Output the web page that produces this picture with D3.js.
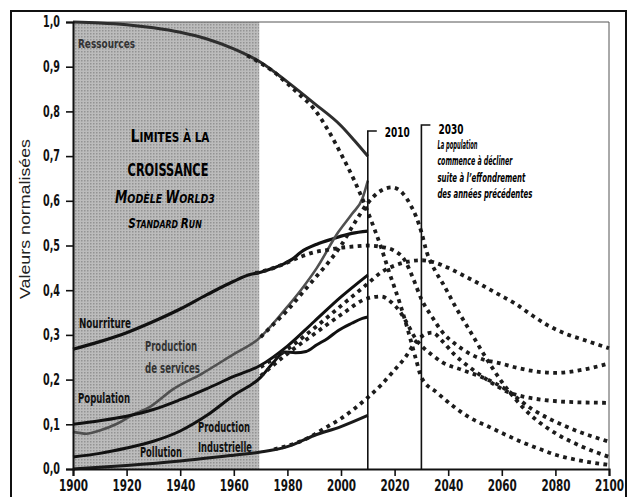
<!DOCTYPE html>
<html>
<head>
<meta charset="utf-8">
<script src="https://cdn.jsdelivr.net/npm/d3@7"></script>
<style>
    body { margin: 0; background: #fff; }
    svg text { font-family: "DejaVu Sans Condensed", "DejaVu Sans", sans-serif; font-weight: bold; }
</style>
</head>
<body>
<script>
(function(){

    // observed series 1900-2010 (solid), [year, value]
    var resourcesObs = [[1900,1.0],[1910,0.998],[1920,0.994],[1930,0.987],[1940,0.977],[1950,0.962],[1960,0.94],[1970,0.91],[1980,0.866],[1990,0.818],[2000,0.768],[2005,0.735],[2010,0.70]];
    var foodObs = [[1900,0.268],[1910,0.285],[1920,0.305],[1930,0.33],[1940,0.358],[1950,0.39],[1960,0.42],[1966,0.435],[1970,0.44],[1975,0.45],[1979,0.46],[1982,0.47],[1985,0.485],[1991,0.503],[1997,0.515],[2004,0.527],[2010,0.532]];
    var servicesObs = [[1900,0.083],[1905,0.079],[1910,0.086],[1916,0.1],[1922,0.12],[1929,0.14],[1937,0.177],[1948,0.213],[1960,0.257],[1969,0.29],[1979,0.356],[1985,0.40],[1991,0.45],[1999,0.53],[2004,0.57],[2008,0.605],[2010,0.645]];
    var populationObs = [[1900,0.10],[1910,0.108],[1920,0.118],[1930,0.133],[1940,0.155],[1950,0.18],[1960,0.207],[1970,0.232],[1980,0.275],[1990,0.33],[2000,0.385],[2010,0.434]];
    var industryObs = [[1900,0.027],[1910,0.035],[1920,0.047],[1930,0.062],[1940,0.085],[1950,0.12],[1960,0.165],[1970,0.205],[1975,0.24],[1979,0.262],[1983,0.26],[1987,0.263],[1991,0.278],[1995,0.292],[1999,0.31],[2004,0.326],[2008,0.337],[2010,0.34]];
    var pollutionObs = [[1900,0.0],[1920,0.008],[1940,0.018],[1960,0.031],[1970,0.038],[1980,0.05],[1990,0.075],[2000,0.095],[2010,0.12]];

    // World3 standard run (dotted)
    var resourcesRun = [[1965,0.925],[1970,0.908],[1975,0.888],[1980,0.862],[1985,0.835],[1990,0.805],[1995,0.76],[2000,0.705],[2005,0.645],[2010,0.575],[2015,0.495],[2018,0.44],[2022,0.37],[2025,0.31],[2028,0.245],[2030,0.205],[2036,0.17],[2042,0.14],[2048,0.115],[2055,0.095],[2062,0.075],[2068,0.059],[2074,0.045],[2080,0.032],[2090,0.018],[2100,0.009]];
    var foodRun = [[1968,0.438],[1975,0.45],[1980,0.462],[1985,0.475],[1990,0.485],[1995,0.49],[2000,0.495],[2005,0.498],[2010,0.50],[2015,0.497],[2020,0.488],[2024,0.465],[2027,0.425],[2030,0.38],[2034,0.34],[2038,0.305],[2043,0.278],[2048,0.258],[2053,0.245],[2059,0.237],[2066,0.226],[2073,0.218],[2080,0.215],[2090,0.222],[2100,0.236]];
    var servicesRun = [[1970,0.295],[1975,0.325],[1980,0.355],[1985,0.39],[1990,0.425],[1995,0.46],[2000,0.50],[2005,0.55],[2010,0.595],[2015,0.623],[2019,0.63],[2023,0.617],[2026,0.59],[2028,0.565],[2030,0.53],[2032,0.485],[2035,0.445],[2038,0.415],[2043,0.36],[2048,0.31],[2055,0.24],[2060,0.195],[2065,0.157],[2070,0.125],[2075,0.10],[2080,0.08],[2090,0.05],[2100,0.027]];
    var populationRun = [[1970,0.228],[1980,0.268],[1990,0.315],[2000,0.365],[2010,0.415],[2015,0.44],[2020,0.455],[2025,0.464],[2030,0.467],[2035,0.462],[2040,0.45],[2046,0.432],[2053,0.41],[2059,0.39],[2065,0.37],[2071,0.345],[2077,0.322],[2084,0.302],[2090,0.29],[2100,0.27]];
    var industryRun = [[1970,0.208],[1980,0.258],[1990,0.302],[2000,0.345],[2010,0.382],[2015,0.386],[2019,0.372],[2022,0.352],[2025,0.322],[2028,0.29],[2031,0.27],[2034,0.255],[2038,0.238],[2045,0.222],[2052,0.207],[2061,0.18],[2071,0.135],[2084,0.095],[2100,0.061]];
    var pollutionRun = [[1975,0.044],[1980,0.052],[1985,0.062],[1990,0.077],[1995,0.095],[2000,0.113],[2005,0.135],[2010,0.16],[2015,0.188],[2019,0.215],[2024,0.25],[2028,0.285],[2031,0.30],[2034,0.305],[2038,0.285],[2042,0.258],[2047,0.232],[2052,0.21],[2057,0.19],[2062,0.173],[2068,0.162],[2075,0.155],[2085,0.15],[2100,0.148]];

    var xTicks = d3.range(1900, 2101, 20);
    var yTicks = d3.range(0, 11).map(function(d){ return d / 10; });
    var markers = [2010, 2030];
    var noteLines = ["La population", "commence à décliner", "suite à l’effondrement", "des années précédentes"];

    var width = 633, height = 497;

    var svg = d3.select("body")
        .append("svg")
        .attr("width", width)
        .attr("height", height);

    var x = d3.scaleLinear().domain([1900, 2100]).range([73, 609]);
    var y = d3.scaleLinear().domain([0, 1]).range([469, 22]);

    // squeeze a text to the width it has in the print
    function fit(sel, w){
        sel.attr("textLength", w).attr("lengthAdjust", "spacingAndGlyphs");
    }

    // halftone for the shaded period
    var pat = svg.append("defs").append("pattern")
        .attr("id", "tone")
        .attr("width", 3).attr("height", 3)
        .attr("patternUnits", "userSpaceOnUse");
    pat.append("rect").attr("width", 3).attr("height", 3).attr("fill", "#bcbcbc");
    pat.append("rect").attr("width", 1.5).attr("height", 1.5).attr("fill", "#939393");

    // outer frame
    svg.append("rect")
        .attr("x", 11).attr("y", 11)
        .attr("width", 615).attr("height", 500)
        .attr("fill", "none")
        .attr("stroke", "#111")
        .attr("stroke-width", 2);

    svg.append("rect")
        .attr("x", x(1900)).attr("y", y(1))
        .attr("width", x(1969.5) - x(1900))
        .attr("height", y(0) - y(1))
        .attr("fill", "url(#tone)");

    // plot frame top and right
    svg.append("path")
        .attr("d", "M" + x(1900) + "," + y(1) + "H" + x(2100) + "V" + y(0))
        .attr("fill", "none")
        .attr("stroke", "#555")
        .attr("stroke-width", 1);

    var line = d3.line()
        .x(function(d){ return x(d[0]); })
        .y(function(d){ return y(d[1]); })
        .curve(d3.curveMonotoneX);

    var solids = [
        {data: resourcesObs, color: "#2e2e2e", w: 3},
        {data: foodObs, color: "#111", w: 3.2},
        {data: servicesObs, color: "#505050", w: 2.6},
        {data: populationObs, color: "#111", w: 3},
        {data: industryObs, color: "#111", w: 3},
        {data: pollutionObs, color: "#1a1a1a", w: 3}
    ];

    svg.selectAll(".obs")
        .data(solids)
        .enter()
        .append("path")
        .attr("class", "obs")
        .attr("d", function(d){ return line(d.data); })
        .attr("fill", "none")
        .attr("stroke", function(d){ return d.color; })
        .attr("stroke-width", function(d){ return d.w; });

    var runs = [resourcesRun, foodRun, servicesRun, populationRun, industryRun, pollutionRun];

    svg.selectAll(".run")
        .data(runs)
        .enter()
        .append("path")
        .attr("class", "run")
        .attr("d", line)
        .attr("fill", "none")
        .attr("stroke", "#1c1c1c")
        .attr("stroke-width", 3.8)
        .attr("stroke-dasharray", "3.8,4.4");

    // 2010 / 2030 markers
    var mk = svg.selectAll(".marker")
        .data(markers)
        .enter()
        .append("g")
        .attr("class", "marker");
    mk.append("path")
        .attr("d", function(d, i){
            var top = i == 0 ? 131 : 125;
            return "M" + (x(d) + 9) + "," + top + "H" + x(d) + "V" + y(0);
        })
        .attr("fill", "none")
        .attr("stroke", "#111")
        .attr("stroke-width", 1.6);
    mk.append("text")
        .attr("x", function(d){ return x(d) + 17; })
        .attr("y", function(d, i){ return i == 0 ? 137 : 134; })
        .attr("font-size", 14)
        .text(function(d){ return d; })
        .call(fit, 25);

    var noteWidths = [40, 75, 88, 95];
    svg.append("g")
        .selectAll("text")
        .data(noteLines)
        .enter()
        .append("text")
        .attr("x", x(2030) + 16)
        .attr("y", function(d, i){ return 149 + i * 16.3; })
        .attr("font-size", 12)
        .attr("font-style", "italic")
        .attr("textLength", function(d, i){ return noteWidths[i]; })
        .attr("lengthAdjust", "spacingAndGlyphs")
        .text(function(d){ return d; });

    // axes
    var yAxis = svg.append("g")
        .attr("transform", "translate(" + x(1900) + ",0)")
        .call(d3.axisLeft(y)
            .tickValues(yTicks)
            .tickSize(7)
            .tickPadding(6)
            .tickFormat(function(d){ return d.toFixed(1).replace(".", ","); }));

    var xAxis = svg.append("g")
        .attr("transform", "translate(0," + y(0) + ")")
        .call(d3.axisBottom(x)
            .tickValues(xTicks)
            .tickSize(7)
            .tickPadding(4)
            .tickFormat(d3.format("d")));

    [yAxis, xAxis].forEach(function(ax){
        ax.select(".domain").attr("stroke", "#111").attr("stroke-width", 2);
        ax.selectAll(".tick line").attr("stroke", "#111").attr("stroke-width", 1.6);
        ax.selectAll(".tick text")
            .attr("fill", "#111")
            .style("font-size", "15px")
            .style("font-family", "\"DejaVu Sans Condensed\", \"DejaVu Sans\", sans-serif")
            .style("font-weight", "bold");
    });
    yAxis.selectAll(".tick text").call(fit, 17);
    xAxis.selectAll(".tick text").call(fit, 29);

    svg.append("text")
        .attr("transform", "translate(30,219) rotate(-90)")
        .attr("text-anchor", "middle")
        .style("font-size", "15px")
        .style("font-weight", "normal")
        .style("font-family", "\"Liberation Sans\", Arial, sans-serif")
        .attr("fill", "#222")
        .text("Valeurs normalisées")
        .call(fit, 160);

    // title block inside shaded zone, small caps squeezed horizontally
    var titleLines = [
        {parts: [["L", 18], ["IMITES À LA", 13.5]], x: 170, y: 142, k: 0.86, it: false},
        {parts: [["CROISSANCE", 17]], x: 168, y: 176, k: 0.74, it: false},
        {parts: [["M", 17], ["ODÈLE ", 13], ["W", 17], ["ORLD3", 13]], x: 165, y: 203, k: 0.81, it: true},
        {parts: [["S", 14], ["TANDARD ", 10.5], ["R", 14], ["UN", 10.5]], x: 165, y: 228, k: 0.83, it: true}
    ];
    titleLines.forEach(function(tl){
        var t = svg.append("g")
            .attr("transform", "translate(" + tl.x + "," + tl.y + ") scale(" + tl.k + ",1)")
            .append("text")
            .attr("text-anchor", "middle")
            .attr("font-style", tl.it ? "italic" : "normal");
        tl.parts.forEach(function(p){
            t.append("tspan").attr("font-size", p[1]).text(p[0]);
        });
    });

    // series labels
    var labels = [
        {t: "Ressources", x: 78, y: 48, w: 57, s: 12.5, c: "#333"},
        {t: "Nourriture", x: 79, y: 328, w: 52, s: 14, c: "#111"},
        {t: "Production", x: 145, y: 351, w: 52, s: 14, c: "#333"},
        {t: "de services", x: 145, y: 373, w: 55, s: 14, c: "#333"},
        {t: "Population", x: 78, y: 403, w: 52, s: 14, c: "#111"},
        {t: "Production", x: 198, y: 432, w: 52, s: 14, c: "#111"},
        {t: "Industrielle", x: 198, y: 452, w: 54, s: 14, c: "#111"},
        {t: "Pollution", x: 140, y: 457, w: 42, s: 14, c: "#111"}
    ];
    svg.selectAll(".lab")
        .data(labels)
        .enter()
        .append("text")
        .attr("class", "lab")
        .attr("x", function(d){ return d.x; })
        .attr("y", function(d){ return d.y; })
        .attr("fill", function(d){ return d.c; })
        .attr("font-size", function(d){ return d.s; })
        .attr("textLength", function(d){ return d.w; })
        .attr("lengthAdjust", "spacingAndGlyphs")
        .text(function(d){ return d.t; });

})();
</script>
</body>
</html>
